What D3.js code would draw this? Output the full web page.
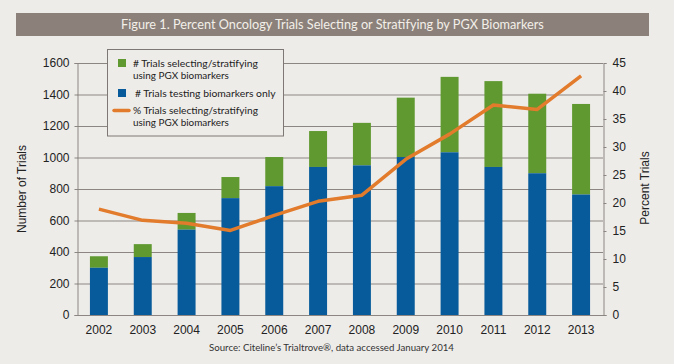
<!DOCTYPE html>
<html>
<head>
<meta charset="utf-8">
<script src="https://cdn.jsdelivr.net/npm/d3@7"></script>
<style>
  html, body { margin: 0; padding: 0; background: #eeece9; }
  svg { display: block; }
</style>
</head>
<body>
<svg id="chart" width="674" height="364"></svg>
<script>
// ---- data ----
const years = ["2002","2003","2004","2005","2006","2007","2008","2009","2010","2011","2012","2013"];
const testingOnly = [300, 368, 542, 742, 818, 940, 950, 1003, 1033, 940, 900, 765];
const totalTrials = [373, 450, 648, 876, 1003, 1168, 1220, 1380, 1512, 1485, 1405, 1340];
const percentSelecting = [18.9, 16.9, 16.4, 15.1, 17.8, 20.3, 21.4, 27.8, 32.3, 37.5, 36.7, 42.7];
const leftTicks = [0, 200, 400, 600, 800, 1000, 1200, 1400, 1600];
const rightTicks = [0, 5, 10, 15, 20, 25, 30, 35, 40, 45];

const C = {
  bg: "#eeece9", grid: "#8c8682", green: "#5f9930", blue: "#075b9a",
  orange: "#e27b2b", title: "#8b817a", text: "#222"
};
const humanist = "'Liberation Sans Narrow', Lato, 'Open Sans', sans-serif";
const arial = "'Liberation Sans', Arial, sans-serif";

const svg = d3.select("#chart");
svg.append("rect").attr("width", 674).attr("height", 364).attr("fill", C.bg);

function fitText(sel, width) {
  const node = sel.node();
  let fs = parseFloat(sel.attr("font-size"));
  const w = node.getComputedTextLength();
  if (w > 0) sel.attr("font-size", (fs * width / w).toFixed(2));
  return sel;
}

// ---- title bar ----
svg.append("rect").attr("x", 16).attr("y", 13).attr("width", 633).attr("height", 23).attr("fill", C.title);
fitText(svg.append("text").attr("x", 332.5).attr("y", 29).attr("text-anchor", "middle")
  .attr("font-family", humanist).attr("font-size", 13).attr("fill", "#f3efe9")
  .text("Figure 1. Percent Oncology Trials Selecting or Stratifying by PGX Biomarkers"), 423);

// ---- scales ----
const pL = 77, pR = 603, pT = 63, pB = 315;
const x = d3.scaleBand().domain(years).range([pL, pR]).paddingInner(0.59).paddingOuter(0.295);
const y = d3.scaleLinear().domain([0, 1600]).range([pB, pT]);
const yR = d3.scaleLinear().domain([0, 45]).range([pB, pT]);

// ---- gridlines ----
svg.append("g").selectAll("line").data(leftTicks.slice(1)).join("line")
  .attr("x1", pL).attr("x2", pR).attr("y1", d => y(d) + 0.5).attr("y2", d => y(d) + 0.5)
  .attr("stroke", C.grid).attr("stroke-width", 1);

// ---- bars ----
const rows = years.map((yr, i) => ({ yr, blue: testingOnly[i], total: totalTrials[i], pct: percentSelecting[i] }));
const bars = svg.append("g");
bars.selectAll("rect.g").data(rows).join("rect").attr("class", "g")
  .attr("x", d => x(d.yr)).attr("width", x.bandwidth())
  .attr("y", d => y(d.total)).attr("height", d => y(d.blue) - y(d.total))
  .attr("fill", C.green);
bars.selectAll("rect.b").data(rows).join("rect").attr("class", "b")
  .attr("x", d => x(d.yr)).attr("width", x.bandwidth())
  .attr("y", d => y(d.blue)).attr("height", d => y(0) - y(d.blue))
  .attr("fill", C.blue);

// ---- axes ----
const axL = svg.append("g").attr("transform", `translate(${pL + 0.5},0)`)
  .call(d3.axisLeft(y).tickValues(leftTicks).tickFormat(d3.format("d")).tickSize(3).tickPadding(5));
const axR = svg.append("g").attr("transform", `translate(${pR + 0.5},0)`)
  .call(d3.axisRight(yR).tickValues(rightTicks).tickFormat(d3.format("d")).tickSize(3).tickPadding(6));
const axB = svg.append("g").attr("transform", `translate(0,${pB + 0.5})`)
  .call(d3.axisBottom(x).tickSize(0).tickPadding(10));
[axL, axR, axB].forEach(g => {
  g.select(".domain").attr("stroke", C.grid);
  g.selectAll(".tick line").attr("stroke", C.grid);
  g.selectAll("text").attr("font-family", arial).attr("font-size", 12).attr("fill", C.text);
});
axB.select(".domain").attr("d", `M${pL},0H${pR + 3}`);

// ---- percent line ----
const line = d3.line().x(d => x(d.yr) + x.bandwidth() / 2).y(d => yR(d.pct));
svg.append("path").datum(rows).attr("d", line).attr("fill", "none")
  .attr("stroke", C.orange).attr("stroke-width", 3.5).attr("stroke-linejoin", "round");

// ---- axis titles ----
svg.append("text").attr("transform", "translate(26,189) rotate(-90)").attr("text-anchor", "middle")
  .attr("font-family", arial).attr("font-size", 12).attr("fill", C.text).text("Number of Trials");
svg.append("text").attr("transform", "translate(649,188) rotate(-90)").attr("text-anchor", "middle")
  .attr("font-family", arial).attr("font-size", 12).attr("fill", C.text).text("Percent Trials");

// ---- legend ----
const lg = svg.append("g");
lg.append("rect").attr("x", 107.5).attr("y", 49.5).attr("width", 176).attr("height", 86.5)
  .attr("fill", C.bg).attr("stroke", "#7d7874").attr("stroke-width", 1);
lg.append("rect").attr("x", 118).attr("y", 59).attr("width", 8).attr("height", 8).attr("fill", C.green);
lg.append("rect").attr("x", 118).attr("y", 89).attr("width", 8).attr("height", 8).attr("fill", C.blue);
lg.append("line").attr("x1", 114).attr("x2", 129).attr("y1", 110.5).attr("y2", 110.5)
  .attr("stroke", C.orange).attr("stroke-width", 3.5).attr("stroke-linecap", "round");
const lt = (tx, ty, s, w) => fitText(lg.append("text").attr("x", tx).attr("y", ty)
  .attr("font-family", humanist).attr("font-size", 10).attr("fill", C.text).text(s), w);
lt(133, 67, "# Trials selecting/stratifying", 125);
lt(133, 79, "using PGX biomarkers", 96);
lt(135, 97, "# Trials testing biomarkers only", 140.5);
lt(133, 114, "% Trials selecting/stratifying", 125);
lt(133, 126, "using PGX biomarkers", 96);

// ---- source ----
fitText(svg.append("text").attr("x", 331.5).attr("y", 351).attr("text-anchor", "middle")
  .attr("font-family", humanist).attr("font-size", 9).attr("fill", "#333")
  .text("Source: Citeline\u2019s Trialtrove\u00ae, data accessed January 2014"), 245);
</script>
</body>
</html>
